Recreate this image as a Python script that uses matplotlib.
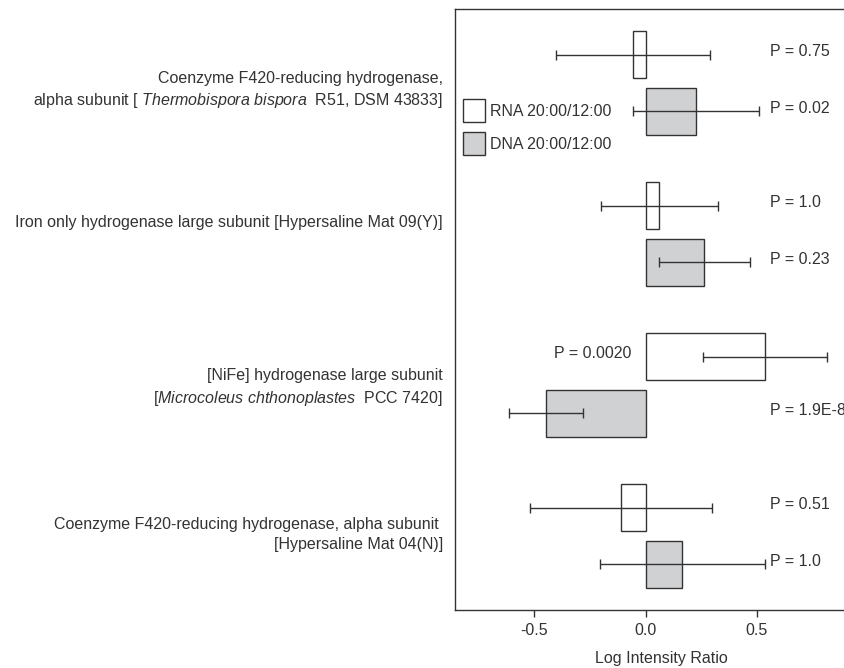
import numpy as np
import matplotlib
matplotlib.use('Agg')
import matplotlib.pyplot as plt
from matplotlib.patches import Patch
from matplotlib.transforms import blended_transform_factory

plt.rcParams['font.family'] = ['Liberation Sans', 'DejaVu Sans']
plt.rcParams['mathtext.fontset'] = 'custom'
plt.rcParams['mathtext.rm'] = 'Liberation Sans'
plt.rcParams['mathtext.it'] = 'Liberation Sans:italic'

# data (top to bottom)
labels = [
    "Coenzyme F420-reducing hydrogenase,\nalpha subunit [ $\\it{Thermobispora\\ bispora}$  R51, DSM 43833]",
    "Iron only hydrogenase large subunit [Hypersaline Mat 09(Y)]",
    "[NiFe] hydrogenase large subunit\n[$\\it{Microcoleus\\ chthonoplastes}$  PCC 7420]",
    "Coenzyme F420-reducing hydrogenase, alpha subunit \n[Hypersaline Mat 04(N)]",
]
rna_vals = [-0.057, 0.061, 0.536, -0.110]
rna_err = [0.346, 0.263, 0.277, 0.410]
dna_vals = [0.227, 0.264, -0.448, 0.165]
dna_err = [0.283, 0.205, 0.167, 0.372]
rna_p = ["P = 0.75", "P = 1.0", "P = 0.0020", "P = 0.51"]
dna_p = ["P = 0.02", "P = 0.23", "P = 1.9E-8", "P = 1.0"]

dark = '#333333'
gray = '#d0d1d3'
fs = 11.5

fig = plt.figure(figsize=(8.45, 6.68), dpi=100)
ax = fig.add_axes([0.5385, 0.0868, 0.489, 0.8997])

y = np.arange(len(labels))
off = 0.1875
h = 0.313

ax.barh(y - off, rna_vals, height=h, color='white', edgecolor=dark, linewidth=1.0)
ax.barh(y + off, dna_vals, height=h, color=gray, edgecolor=dark, linewidth=1.0)
ax.errorbar(rna_vals, y - off, xerr=rna_err, fmt='none', ecolor=dark, elinewidth=1.0, capsize=3.5, capthick=1.0)
ax.errorbar(dna_vals, y + off, xerr=dna_err, fmt='none', ecolor=dark, elinewidth=1.0, capsize=3.5, capthick=1.0)

# p-values
for i in range(len(labels)):
    if rna_vals[i] > 0.3:
        ax.text(-0.063, y[i] - off - 0.02, rna_p[i], ha='right', va='center', fontsize=fs, color=dark)
    else:
        ax.text(0.559, y[i] - off - 0.02, rna_p[i], ha='left', va='center', fontsize=fs, color=dark)
    ax.text(0.559, y[i] + off - 0.02, dna_p[i], ha='left', va='center', fontsize=fs, color=dark)

# category labels to the left of the axes
label_dy = [0.05, -0.075, 0.02, -0.01]
trans = blended_transform_factory(fig.transFigure, ax.transData)
for i, lab in enumerate(labels):
    ax.text(443 / 845, y[i] + label_dy[i], lab, ha='right', va='center', fontsize=fs,
            color=dark, transform=trans, linespacing=1.4, clip_on=False)

ax.set_xlim(-0.857, 1.0)
ax.set_ylim(3.49, -0.49)
ax.set_yticks([])
ax.set_xticks([-0.5, 0.0, 0.5])
ax.set_xticklabels(['-0.5', '0.0', '0.5'])
ax.tick_params(axis='x', direction='out', length=5, width=1.0, color=dark, labelcolor=dark, labelsize=fs, pad=4)
for s in ax.spines.values():
    s.set_color(dark)
    s.set_linewidth(1.0)
ax.spines['right'].set_visible(False)
ax.set_xlabel('Log Intensity Ratio', fontsize=fs, color=dark, labelpad=10)

handles = [Patch(facecolor='white', edgecolor=dark, linewidth=1.0, label='RNA 20:00/12:00'),
           Patch(facecolor=gray, edgecolor=dark, linewidth=1.0, label='DNA 20:00/12:00')]
leg = ax.legend(handles=handles, loc='upper left', bbox_to_anchor=(462.7 / 845, 1 - 99.3 / 668),
                bbox_transform=fig.transFigure, frameon=False, borderpad=0, borderaxespad=0,
                handlelength=1.4, handleheight=1.85, handletextpad=0.3, labelspacing=0.6, fontsize=fs)
for t in leg.get_texts():
    t.set_color(dark)

fig.savefig('out.png', dpi=100)
